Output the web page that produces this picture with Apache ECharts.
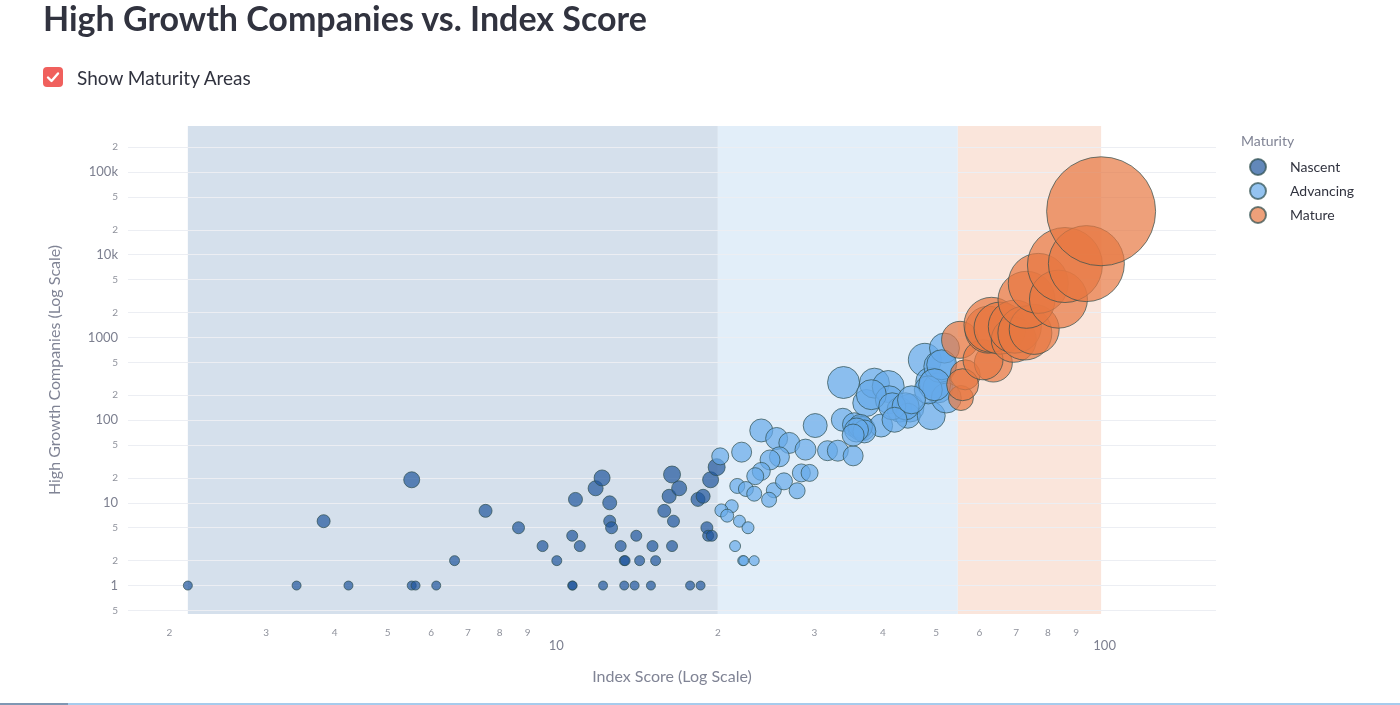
<!DOCTYPE html>
<html>
<head>
<meta charset="utf-8">
<title>High Growth Companies vs. Index Score</title>
<script src="https://cdn.jsdelivr.net/npm/echarts@6/dist/echarts.min.js"></script>
<style>
  html, body { margin: 0; padding: 0; background: #fff; }
  body { width: 1400px; height: 705px; position: relative; overflow: hidden;
         font-family: 'Source Sans Pro', Lato, 'Noto Sans', sans-serif; color: #31333F; }
  #chart { position: absolute; left: 0; top: 0; width: 1400px; height: 705px; }
  h1 { position: absolute; left: 43px; top: -3px; margin: 0; font-size: 34px; font-weight: 700; z-index: 2; }
  .toggle { position: absolute; left: 43px; top: 67px; height: 20px; display: flex; align-items: center; z-index: 2; }
  .toggle .box { width: 20px; height: 20px; border-radius: 4px; background: #f0605d; }
  .toggle span { margin-left: 14px; font-size: 19px; }
  .bar { position: absolute; left: 0; bottom: 0; height: 2px; width: 1400px; background: #a6cbec; }
  .bar i { position: absolute; left: 0; top: 0; height: 2px; width: 68px; background: #7f97b3; }
</style>
</head>
<body>
<h1>High Growth Companies vs. Index Score</h1>
<div class="toggle">
  <div class="box"><svg width="20" height="20"><polyline points="5,10.5 8.5,14 15,6.5" fill="none" stroke="#fff" stroke-width="2.4" stroke-linecap="round" stroke-linejoin="round"/></svg></div>
  <span>Show Maturity Areas</span>
</div>
<div id="chart"></div>
<div class="bar"><i></i></div>

<script>
// tick values (plotly style log ticks: 2..9 between decades)
var scoreTicks = [2, 3, 4, 5, 6, 7, 8, 9, 10, 20, 30, 40, 50, 60, 70, 80, 90, 100];
var companyTicks = [0.5, 1, 2, 5, 10, 20, 50, 100, 200, 500, 1000, 2000, 5000, 10000, 20000, 50000, 100000, 200000];

var maturityNames = ['Nascent', 'Advancing', 'Mature'];
// index score limits of each maturity area
var bandEdges = [2.16, 20, 54.8, 100];

// [index score, high growth companies, bubble weight]
var nascent = [
  [2.16, 1, 81], [3.41, 1, 81], [3.82, 6, 169], [4.24, 1, 81], [5.53, 19, 256], [5.53, 1, 81],
  [5.62, 1, 81], [6.13, 1, 81], [6.62, 2, 100], [7.54, 8, 169], [8.66, 5, 144], [9.58, 3, 121],
  [10.17, 2, 100], [10.85, 4, 121], [11.0, 11, 196], [10.85, 1, 81], [10.87, 1, 81], [11.2, 3, 121],
  [11.97, 15, 225], [12.3, 20, 256], [12.35, 1, 81], [12.7, 10, 196], [12.7, 6, 144], [12.8, 5, 144],
  [13.3, 3, 121], [13.5, 2, 100], [13.55, 2, 100], [13.5, 1, 81], [14.1, 1, 81], [14.2, 4, 121],
  [14.4, 2, 100], [15.1, 1, 81], [15.2, 3, 121], [15.4, 2, 100], [15.97, 8, 169], [16.5, 3, 121],
  [16.5, 22, 289], [16.3, 12, 196], [17.0, 15, 225], [16.6, 6, 144], [17.8, 1, 81], [18.6, 1, 81],
  [18.4, 11, 196], [18.8, 12, 196], [19.4, 19, 256], [19.1, 5, 144], [19.2, 4, 121], [19.5, 4, 121],
  [19.9, 27, 289]
];
var advancing = [
  [20.2, 36.5, 289], [22.1, 41, 400], [24.0, 75, 529], [25.6, 60, 484], [27.0, 53, 441], [30.1, 86, 576],
  [28.9, 44, 441], [25.9, 36, 400], [24.9, 33, 400], [24.0, 24, 324], [23.4, 21, 289], [21.7, 16, 225],
  [22.5, 14.7, 225], [23.3, 12.9, 225], [25.3, 14.2, 225], [26.4, 18.2, 289], [24.8, 10.9, 225],
  [27.9, 14, 256], [28.4, 23, 324], [29.4, 23, 289], [21.2, 9.1, 169], [20.3, 8.1, 169], [20.8, 7.0, 169],
  [21.9, 6, 144], [22.7, 5, 144], [21.5, 3, 121], [22.2, 2, 100], [22.3, 2, 100], [23.3, 2, 100],
  [31.7, 42.7, 400], [33.1, 42.7, 441], [35.3, 37, 400], [33.9, 285, 1024], [33.8, 101, 529],
  [35.5, 88, 576], [36.3, 80, 576], [36.8, 79, 576], [39.7, 86, 529], [37.3, 161, 729], [38.6, 280, 900],
  [40.9, 255, 1024], [41.1, 176, 784], [38.1, 203, 900], [42.9, 134, 625], [44.8, 140, 784],
  [44.4, 113, 625], [49.0, 113, 784], [47.7, 536, 1089], [48.7, 293, 784], [49.7, 280, 900],
  [50.4, 245, 900], [52.2, 185, 900], [50.8, 445, 1024], [51.8, 743, 900], [41.6, 147, 729],
  [44.0, 147, 729], [36.4, 84, 576], [37.0, 73, 529], [35.8, 76, 576], [35.3, 66, 484], [48.4, 232, 784],
  [51.2, 467, 900], [49.7, 268, 1024], [42.0, 101, 625], [45.1, 176, 784]
];
var mature = [
  [55.5, 185, 625], [56.5, 353, 900], [55.9, 268, 1024], [55.3, 935, 1369], [63.6, 490, 1444],
  [60.9, 536, 1600], [62.3, 1240, 2209], [63.1, 1420, 3025], [65.4, 1295, 2704], [69.3, 935, 2025],
  [69.6, 1350, 2809], [72.6, 1130, 2916], [75.5, 1250, 2500], [73.1, 2850, 3249], [76.8, 4500, 3600],
  [83.6, 2900, 3364], [85.9, 7500, 5625], [94.0, 7800, 5776], [100, 33500, 11881]
];

var colors = ['#20559c', '#67a9e9', '#e77741'];
var bandColors = ['#d5e0ec', '#e2eef9', '#fae5db'];
var font = "'Source Sans Pro', Lato, 'Noto Sans', sans-serif";

function isPow10(v) {
  var l = Math.log10(v);
  return Math.abs(l - Math.round(l)) < 1e-9;
}
function leadDigit(v) {
  return Math.round(v / Math.pow(10, Math.floor(Math.log10(v) + 1e-9)));
}
function scoreLabel(v) {
  return isPow10(v) ? '{big|' + Math.round(v) + '}' : '{small|' + leadDigit(v) + '}';
}
function companyLabel(v) {
  if (!isPow10(v) || v < 1) return '{small|' + leadDigit(v) + '}';
  var txt = v >= 10000 ? (v / 1000) + 'k' : String(Math.round(v));
  return '{big|' + txt + '}';
}

var series = [nascent, advancing, mature].map(function (points, i) {
  return {
    name: maturityNames[i],
    type: 'scatter',
    data: points,
    symbolSize: function (v) { return Math.sqrt(v[2]); },
    itemStyle: { color: colors[i], opacity: 0.7, borderColor: '#2F4F4F', borderWidth: 1 },
    emphasis: { disabled: true },
    markArea: {
      silent: true,
      z: -1,
      itemStyle: { color: bandColors[i] },
      data: [[{ xAxis: bandEdges[i] }, { xAxis: bandEdges[i + 1] }]]
    }
  };
});

var chart = echarts.init(document.getElementById('chart'));
chart.setOption({
  animation: false,
  textStyle: { fontFamily: font },
  grid: { left: 128, right: 184, top: 126, bottom: 91, containLabel: false, outerBoundsMode: 'none' },
  legend: {
    data: maturityNames,
    orient: 'vertical',
    left: 1244,
    top: 153,
    icon: 'circle',
    itemWidth: 38,
    itemHeight: 16,
    itemGap: 6,
    textStyle: { color: '#31333F', fontSize: 14, fontFamily: font, padding: [0, 0, 0, 8] }
  },
  graphic: [{
    type: 'text', left: 1241, top: 134,
    style: { text: 'Maturity', fill: '#808495', font: '14px ' + font }
  }],
  xAxis: {
    type: 'log',
    logBase: 10,
    min: 1.68,
    max: 162,
    name: 'Index Score (Log Scale)',
    nameLocation: 'middle',
    nameGap: 55,
    nameMoveOverlap: false,
    nameTextStyle: { color: '#808495', fontSize: 16, fontFamily: font },
    axisLine: { show: false },
    axisTick: { show: false, customValues: scoreTicks },
    splitLine: { show: false },
    axisLabel: {
      customValues: scoreTicks,
      margin: 14,
      formatter: scoreLabel,
      rich: {
        small: { fontSize: 10, color: '#8f929c', fontFamily: font },
        big: { fontSize: 13, color: '#7d8090', fontFamily: font, padding: [11, 0, 0, 7] }
      }
    }
  },
  yAxis: {
    type: 'log',
    logBase: 10,
    min: 0.453,
    max: 359700,
    name: 'High Growth Companies (Log Scale)',
    nameLocation: 'middle',
    nameGap: 65,
    nameMoveOverlap: false,
    nameTextStyle: { color: '#808495', fontSize: 16, fontFamily: font },
    axisLine: { show: false },
    axisTick: { show: false, customValues: companyTicks },
    splitLine: { show: true, lineStyle: { color: '#eceef3', width: 1 } },
    axisLabel: {
      customValues: companyTicks,
      margin: 10,
      formatter: companyLabel,
      rich: {
        small: { fontSize: 10, color: '#8f929c', fontFamily: font },
        big: { fontSize: 13, color: '#7d8090', fontFamily: font }
      }
    }
  },
  series: series
});
</script>
</body>
</html>
